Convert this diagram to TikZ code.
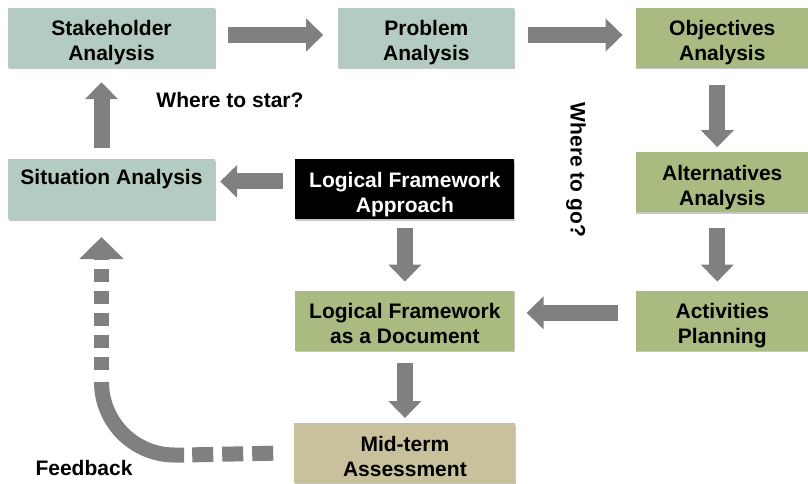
\documentclass[tikz,border=0pt]{standalone}
\usepackage{fontspec}
\setmainfont{Liberation Sans}
\usepackage{xcolor}
\usepackage{tikz}
\usetikzlibrary{arrows.meta, positioning, shadows}

\definecolor{stageteal}{HTML}{B4CBC2}
\definecolor{stageolive}{HTML}{A9BB81}
\definecolor{stagekhaki}{HTML}{C8C19B}
\definecolor{flowgray}{HTML}{808080}

\begin{document}
\begin{tikzpicture}[
    x=1pt, y=-1pt,
    every node/.style={font=\bfseries\fontsize{21}{25}\selectfont},
    stage/.style={rectangle, minimum width=207pt, minimum height=60pt, align=center,
        text height=46pt, text depth=0pt,
        drop shadow={shadow xshift=0.5pt, shadow yshift=-1.5pt, opacity=0.45}},
    teal/.style={stage, fill=stageteal},
    olive/.style={stage, fill=stageolive},
    khaki/.style={stage, fill=stagekhaki},
    blockarrow/.style={draw=flowgray, line width=16pt, -{Triangle[length=17pt, width=32pt]}},
    feedline/.style={draw=flowgray, line width=15pt}
]
\useasboundingbox (0,0) rectangle (808,484);

\node (stake) [teal] at (111.5,38) {Stakeholder\\Analysis};
\node (problem) [teal, minimum width=176pt, right=123pt of stake] {Problem\\Analysis};
\node (obj) [olive, minimum width=173pt, right=121pt of problem] {Objectives\\Analysis};
\node (alt) [olive, minimum width=173pt, below=84pt of obj] {Alternatives\\Analysis};
\node (act) [olive, minimum width=173pt, below=78pt of alt] {Activities\\Planning};
\node (sit) [teal, text height=15pt, text depth=25pt, below=91pt of stake] {Situation Analysis};
\node (lfa) [stage, fill=black, text=white, minimum width=219pt, right=80pt of sit] {Logical Framework\\Approach};
\node (lfdoc) [olive, minimum width=219pt, below=71pt of lfa] {Logical Framework\\as a Document};
\node (mid) [khaki, minimum width=221pt, below=72pt of lfdoc] {Mid-term\\Assessment};

\node (wherestart) at (230,100) {Where to star?};
\node (wherego) [rotate=-90] at (576,170) {Where to go?};
\node (feedback) at (84,468) {Feedback};

\draw [blockarrow, shorten <=13pt, shorten >=15pt] ([yshift=3pt]stake.east) -- ([yshift=3pt]problem.west);
\draw [blockarrow, shorten <=13pt, shorten >=13pt] ([yshift=3pt]problem.east) -- ([yshift=3pt]obj.west);
\draw [blockarrow, shorten <=17pt, shorten >=5pt] ([xshift=-5pt]obj.south) -- ([xshift=-5pt]alt.north);
\draw [blockarrow, shorten <=15pt, shorten >=9pt] ([xshift=-5pt]alt.south) -- ([xshift=-5pt]act.north);
\draw [blockarrow, shorten <=18pt, shorten >=12pt] ([yshift=8pt]act.west) -- ([yshift=8pt]lfdoc.east);
\draw [blockarrow, shorten <=8pt, shorten >=9pt] (lfa) -- (lfdoc);
\draw [blockarrow, shorten <=12pt, shorten >=5pt] (lfdoc) -- (mid);
\draw [blockarrow, shorten <=12pt, shorten >=5pt] ([yshift=8pt]lfa.west) -- ([yshift=8pt]sit.east);
\draw [blockarrow, shorten <=11pt, shorten >=14pt] ([xshift=-10pt]sit.north) -- ([xshift=-10pt]stake.south);

% feedback loop
\coordinate (fbturn) at (184,455);
\coordinate (fbup) at (101.5,370);
\coordinate (fbtip) at (101.5,237);
\draw [feedline, dash pattern=on 21pt off 9pt] ([xshift=-21pt]mid.west) -- (fbturn);
\draw [feedline] (fbturn) -- ++(-9.5,0) arc[start angle=90, end angle=180, radius=73];
\draw [feedline, dash pattern=on 13pt off 9pt, -{Triangle[length=22pt, width=43pt]}] (fbup) -- (fbtip);
\end{tikzpicture}
\end{document}
